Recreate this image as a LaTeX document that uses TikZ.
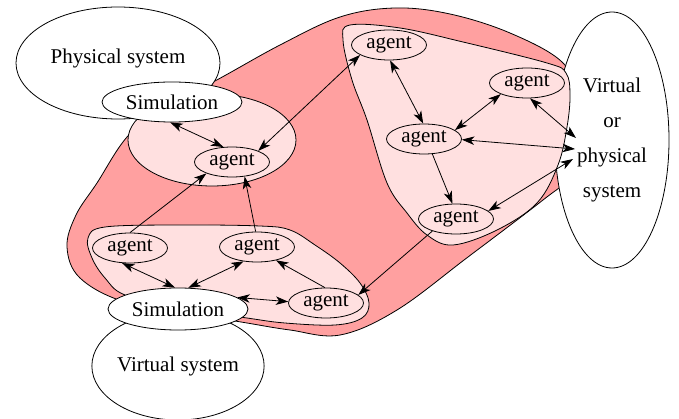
\documentclass[tikz,border=0pt]{standalone}
\usepackage{fontspec}
\setmainfont{Liberation Serif}
\usetikzlibrary{shapes.geometric, arrows.meta}
\definecolor{redpk}{RGB}{255,160,160}
\definecolor{lightpk}{RGB}{255,224,224}
\begin{document}
\begin{tikzpicture}[x=1pt,y=-1pt, line width=0.8pt,
  ell/.style={ellipse, draw, inner sep=0pt, font=\fontsize{21}{25}\selectfont},
  agentnode/.style={ell, minimum width=75pt, minimum height=30pt},
  whiteell/.style={ell, fill=white},
  tip/.style={-{Stealth[length=12.5pt,width=8.5pt,inset=3.5pt]}},
  dtip/.style={{Stealth[length=12.5pt,width=8.5pt,inset=3.5pt]}-{Stealth[length=12.5pt,width=8.5pt,inset=3.5pt]}}]
\useasboundingbox (0,0) rectangle (679,419);
% big red region
\draw[fill=redpk] plot[smooth cycle, tension=0.6] coordinates {(67,247) (76,215) (97,183) (127,137) (165,105) (213,82) (280,45) (340,17) (395,8) (450,14) (510,33) (562,62) (580,100) (582,140) (568,178) (543,200) (468,257) (397,310) (340,335) (290,330) (247,323) (200,315) (125,302) (80,278)};
% lower cluster
\draw[fill=lightpk] plot[smooth cycle, tension=0.6] coordinates {(88,238) (105,227) (180,225) (260,226) (290,230) (315,245) (340,263) (360,283) (369,303) (362,318) (335,325) (285,323) (247,318) (180,308) (125,295) (105,278) (92,258)};
% upper-left cluster
\node[ell, fill=lightpk, minimum width=168pt, minimum height=92pt] (clusUL) at (212,140) {};
% systems
\node[whiteell, minimum width=204pt, minimum height=112pt] (phys) at (118,63) {};
\node[font=\fontsize{21}{25}\selectfont] (physlabel) at (118,58) {Physical system};
\node[whiteell, minimum width=160pt, minimum height=108pt] (vsys) at (178,366) {Virtual system};
\node[whiteell, minimum width=140pt, minimum height=40pt] (sim1) at (172,102) {Simulation};
\node[whiteell, minimum width=140pt, minimum height=42pt] (sim2) at (178,309) {Simulation};
\node[whiteell, minimum width=114pt, minimum height=256pt, align=center, font=\fontsize{21}{35}\selectfont] (vps) at (612,140) {Virtual\\or\\physical\\system};
% upper-right cluster
\draw[fill=lightpk] plot[smooth cycle, tension=0.6] coordinates {(343,40) (350,25) (400,28) (463,42) (547,63) (566,73) (570,95) (567,127) (558,165) (537,203) (497,230) (453,245) (427,235) (407,213) (387,183) (367,120) (352,80)};
% agents
\node[agentnode] (aUL) at (232,162) {agent};
\node[agentnode] (aT) at (389,45) {agent};
\node[agentnode] (aR) at (527,83) {agent};
\node[agentnode] (aM) at (424,139) {agent};
\node[agentnode] (aB) at (456,219) {agent};
\node[agentnode] (aL1) at (130,248) {agent};
\node[agentnode] (aL2) at (257,247) {agent};
\node[agentnode] (aL3) at (326,303) {agent};
\coordinate (vp1) at (576,138);
\coordinate (vp2) at (575,149);
\coordinate (vp3) at (573,159);
% connectors
\draw[dtip] (sim1.265) -- (aUL.120);
\draw[dtip] (aT.199) -- (aUL.23);
\draw[tip] (aL1.90) -- (aUL.204);
\draw[tip] (aL2.95) -- (aUL.311);
\draw[dtip] (aL1.242) -- (sim2.98);
\draw[dtip] (aL2.227) -- (sim2.64);
\draw[dtip] (sim2.11) -- (aL3.178);
\draw[tip] (aL3.94) -- (aL2.325);
\draw[tip] (aB.207) -- (aL3.14);
\draw[dtip] (aT.274) -- (aM.93);
\draw[dtip] (aM.16) -- (aR.203);
\draw[dtip] (aR.281) -- (vp1);
\draw[dtip] (aM.359) -- (vp2);
\draw[dtip] (aB.14) -- (vp3);
\draw[tip] (aM.299) -- (aB.103);
\end{tikzpicture}
\end{document}
